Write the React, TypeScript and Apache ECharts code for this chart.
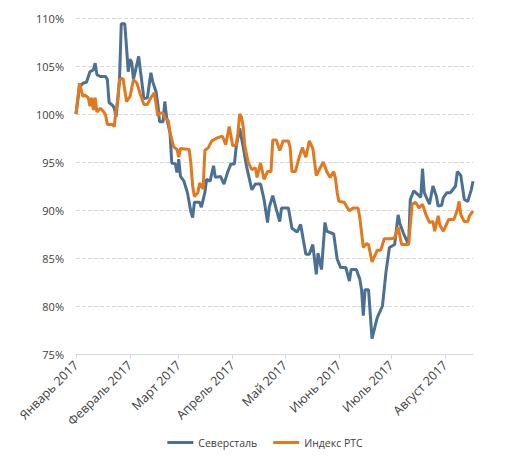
import { useEffect, useRef } from "react";
import * as echarts from "echarts";

const monthLabels = [
  "Январь 2017", "Февраль 2017", "Март 2017", "Апрель 2017",
  "Май 2017", "Июнь 2017", "Июль 2017", "Август 2017",
];

const seriesNames = ["Северсталь", "Индекс РТС"];

const sevDates = [
  "01-01","01-03","01-05","01-07","01-09","01-11","01-12","01-13","01-15","01-18","01-19","01-20","01-22","01-23","01-24","01-25","01-26","01-27","01-29","01-30","01-31",
  "02-01","02-02","02-03","02-06","02-07","02-09","02-11","02-13","02-14","02-16","02-17","02-18","02-20","02-21","02-22","02-24","02-25","02-27","02-28",
  "03-01","03-02","03-04","03-06","03-08","03-09","03-10","03-13","03-14","03-16","03-17","03-19","03-21","03-22","03-25","03-27","03-29","03-31",
  "04-02","04-03","04-05","04-07","04-09","04-12","04-14","04-17","04-19","04-21","04-22","04-24","04-26","04-28","04-29",
  "05-03","05-05","05-08","05-10","05-13","05-15","05-17","05-19","05-20","05-22","05-24","05-25","05-29","05-31",
  "06-02","06-05","06-07","06-08","06-11","06-13","06-14","06-15","06-16","06-18","06-20","06-23","06-26","06-28","06-30",
  "07-03","07-05","07-06","07-08","07-11","07-12","07-14","07-17","07-18","07-19","07-20","07-23","07-25","07-27","07-28","07-30","07-31",
  "08-02","08-04","08-07","08-08","08-10","08-12","08-14","08-16","08-17",
];
const sevValues = [
  100.0,102.8,103.2,103.3,104.4,104.6,105.3,104.1,103.9,103.9,103.6,101.2,100.9,100.6,99.7,101.5,103.6,109.4,109.4,107.0,104.4,
  105.7,105.4,103.6,106.0,104.5,101.6,101.7,104.3,103.4,102.3,101.0,99.2,99.2,101.3,99.7,98.0,94.9,94.8,93.9,
  95.3,93.5,93.0,91.8,89.8,89.2,90.8,90.8,90.3,91.8,93.2,93.0,94.6,93.4,93.5,92.7,93.9,94.8,
  94.8,96.6,98.5,96.6,94.5,92.1,92.7,92.7,91.1,88.7,90.3,91.5,90.1,88.8,90.2,
  90.2,88.1,87.7,88.5,85.4,85.4,86.4,83.3,85.5,83.8,88.7,87.8,87.5,84.9,
  84.0,84.0,82.6,83.8,83.8,82.8,81.7,79.0,81.7,81.7,76.6,78.8,80.0,83.5,86.1,
  86.4,89.5,88.6,87.6,86.4,91.1,92.0,91.5,91.3,94.3,91.8,90.6,92.5,91.4,90.4,90.5,91.3,
  91.8,91.8,92.5,94.0,93.6,91.1,90.9,92.1,93.0,
];

const rtsDates = [
  "01-01","01-03","01-05","01-06","01-08","01-09","01-10","01-11","01-12","01-13","01-15","01-17","01-18","01-19","01-22","01-23","01-24","01-25","01-26","01-28","01-30",
  "02-01","02-03","02-05","02-07","02-09","02-11","02-13","02-15","02-17","02-18","02-20","02-21","02-23","02-24","02-26","02-28",
  "03-01","03-02","03-07","03-08","03-09","03-10","03-12","03-13","03-15","03-16","03-18","03-20","03-23","03-26","03-27","03-28","03-30",
  "04-01","04-03","04-04","04-05","04-06","04-07","04-08","04-10","04-12","04-14","04-15","04-17","04-19","04-21","04-23","04-24","04-26","04-28","04-30",
  "05-03","05-04","05-05","05-07","05-09","05-11","05-13","05-15","05-17","05-19","05-21","05-23","05-25","05-27","05-29","05-30","05-31",
  "06-01","06-04","06-07","06-09","06-12","06-13","06-15","06-17","06-18","06-20","06-23","06-25","06-27",
  "07-01","07-03","07-05","07-06","07-07","07-11","07-13","07-15","07-17","07-19","07-21","07-23","07-25","07-26","07-28","07-29","07-31",
  "08-03","08-06","08-08","08-09","08-10","08-12","08-14","08-15","08-17",
];
const rtsValues = [
  100.0,103.2,101.8,102.0,101.7,100.8,101.7,100.4,101.7,100.2,100.6,100.2,99.9,98.9,98.9,98.7,100.4,101.5,103.6,103.7,101.3,
  101.8,103.6,103.2,102.0,101.0,101.0,101.7,102.2,99.8,100.1,100.1,99.6,99.3,98.1,96.6,96.3,
  95.5,96.4,96.3,94.8,92.5,91.4,91.8,92.8,92.2,96.2,96.5,97.2,97.5,97.7,97.3,96.8,98.7,
  96.7,96.8,98.0,100.0,99.7,98.7,96.6,94.9,94.2,94.4,93.4,94.9,93.2,94.0,94.0,97.3,97.3,96.2,97.2,
  97.2,96.5,94.0,94.0,95.4,96.5,95.5,97.2,96.4,93.6,94.3,95.0,94.0,93.4,94.0,93.3,91.8,
  90.9,90.8,89.9,90.2,90.2,89.2,86.1,86.5,86.4,84.6,85.8,85.8,87.0,
  87.0,87.1,88.2,87.3,86.4,86.4,90.6,90.8,90.2,90.6,89.5,88.7,88.8,87.8,89.4,88.4,87.8,
  89.0,89.0,90.0,90.9,89.5,88.8,88.8,89.4,89.9,
];

const yMin = 75;
const yMax = 110;
const yStep = 5;

function buildDays(): string[] {
  const out: string[] = [];
  const d = new Date(Date.UTC(2017, 0, 1));
  const end = Date.UTC(2017, 7, 17);
  while (d.getTime() <= end) {
    const m = String(d.getUTCMonth() + 1).padStart(2, "0");
    const day = String(d.getUTCDate()).padStart(2, "0");
    out.push(`${m}-${day}`);
    d.setUTCDate(d.getUTCDate() + 1);
  }
  return out;
}

export default function App() {
  const ref = useRef<HTMLDivElement>(null);
  useEffect(() => {
    if (!ref.current) return;
    const chart = echarts.init(ref.current, undefined, { renderer: "svg" });
    const days = buildDays();
    const isMonthStart = (_i: number, v: string) => v.endsWith("-01");
    const font = "'Open Sans', sans-serif";
    chart.setOption({
      animation: false,
      color: ["#4a7094", "#e2791f"],
      grid: { left: 76, right: 57, top: 18, bottom: 112, containLabel: false },
      xAxis: {
        type: "category",
        data: days,
        boundaryGap: false,
        axisLine: { lineStyle: { color: "#d9d9d9", width: 1 } },
        axisTick: { show: true, interval: isMonthStart, length: 5, lineStyle: { color: "#d9d9d9" } },
        axisLabel: {
          interval: isMonthStart,
          rotate: 45,
          margin: 9,
          color: "#404040",
          fontSize: 12.5,
          fontFamily: font,
          formatter: (v: string) => monthLabels[parseInt(v.slice(0, 2), 10) - 1],
        },
        splitLine: { show: false },
      },
      yAxis: {
        type: "value",
        min: yMin,
        max: yMax,
        interval: yStep,
        axisLine: { show: false },
        axisTick: { show: false },
        axisLabel: {
          margin: 12,
          color: "#404040",
          fontSize: 11,
          fontFamily: font,
          formatter: (v: number) => `${v}%`,
        },
        splitLine: { lineStyle: { color: "#d9d9d9", type: "dashed", width: 1 } },
      },
      legend: {
        bottom: 13,
        left: "center",
        itemWidth: 26,
        itemHeight: 3,
        itemGap: 16,
        icon: "rect",
        textStyle: { color: "#404040", fontSize: 10.5, fontFamily: font },
        data: seriesNames,
      },
      series: [
        {
          name: seriesNames[0],
          type: "line",
          symbol: "none",
          lineStyle: { width: 3 },
          data: sevDates.map((d, i) => [d, sevValues[i]]),
        },
        {
          name: seriesNames[1],
          type: "line",
          symbol: "none",
          lineStyle: { width: 3 },
          data: rtsDates.map((d, i) => [d, rtsValues[i]]),
        },
      ],
    });
    return () => chart.dispose();
  }, []);
  return (
    <div
      ref={ref}
      style={{ position: "absolute", left: 0, top: 0, width: 530, height: 466 }}
    />
  );
}
